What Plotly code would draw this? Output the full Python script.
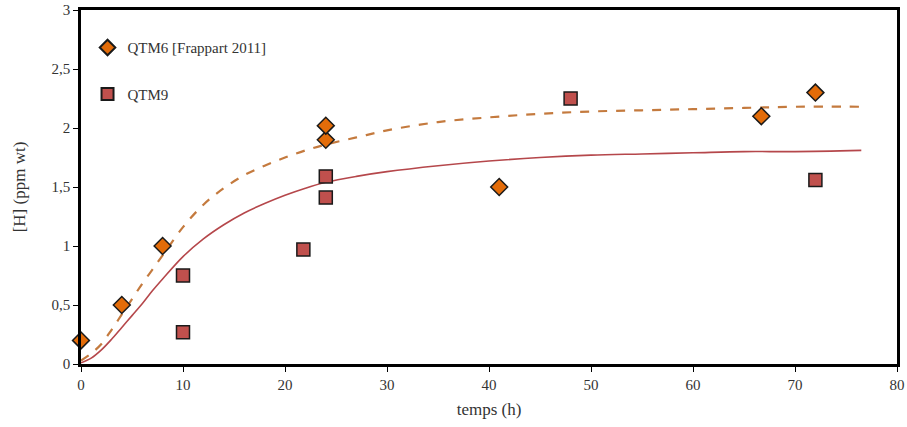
import plotly.graph_objects as go

# Measured points
qtm6_x = [0, 4, 8, 24, 24, 41, 66.7, 72]
qtm6_y = [0.2, 0.5, 1.0, 1.9, 2.02, 1.5, 2.1, 2.3]
qtm9_x = [10, 10, 21.8, 24, 24, 48, 72]
qtm9_y = [0.27, 0.75, 0.97, 1.41, 1.59, 2.25, 1.56]

# Fitted curves
fit_x = [0, 1, 2, 3, 4, 5, 6, 7, 8, 10, 12, 14, 16, 18, 20, 22, 24, 27, 30, 35, 40, 45, 50, 55, 60, 65, 70, 76.5]
fit6_y = [0.03, 0.09, 0.17, 0.29, 0.42, 0.55, 0.68, 0.80, 0.92, 1.16, 1.35, 1.49, 1.60, 1.68, 1.75, 1.81, 1.86, 1.92, 1.98, 2.05, 2.09, 2.12, 2.14, 2.15, 2.16, 2.17, 2.18, 2.18]
fit9_y = [0.01, 0.05, 0.12, 0.21, 0.31, 0.41, 0.51, 0.62, 0.72, 0.91, 1.06, 1.18, 1.28, 1.36, 1.43, 1.49, 1.54, 1.59, 1.63, 1.68, 1.72, 1.75, 1.77, 1.78, 1.79, 1.80, 1.80, 1.81]

x_ticks = [0, 10, 20, 30, 40, 50, 60, 70, 80]
y_ticks = [0, 0.5, 1, 1.5, 2, 2.5, 3]

font = "Liberation Serif, Times New Roman, serif"

fig = go.Figure()
fig.add_trace(go.Scatter(x=fit_x, y=fit6_y, mode="lines", showlegend=False,
                         line=dict(color="#C47A3E", width=2.2, dash="dash", shape="spline"), hoverinfo="skip"))
fig.add_trace(go.Scatter(x=fit_x, y=fit9_y, mode="lines", showlegend=False,
                         line=dict(color="#B5474B", width=1.6, shape="spline"), hoverinfo="skip"))
fig.add_trace(go.Scatter(x=qtm6_x, y=qtm6_y, mode="markers", name="QTM6 [Frappart 2011]",
                         legendgroup="a", cliponaxis=False,
                         marker=dict(symbol="diamond", size=13, color="#E36C09",
                                     line=dict(color="#1a1a1a", width=1.5))))
fig.add_trace(go.Scatter(x=qtm9_x, y=qtm9_y, mode="markers", name="QTM9",
                         legendgroup="b", cliponaxis=False,
                         marker=dict(symbol="square", size=13, color="#C0504D",
                                     line=dict(color="#1a1a1a", width=1.5))))

axis_common = dict(showline=True, linecolor="black", linewidth=2.5, mirror=True,
                   ticks="outside", ticklen=5, tickcolor="black", showgrid=False,
                   zeroline=False, automargin=False, ticklabeloverflow="allow",
                   tickfont=dict(family=font, size=15, color="#333"))

fig.update_layout(
    width=907, height=427,
    margin=dict(l=81, r=10, t=10, b=63),
    paper_bgcolor="white", plot_bgcolor="white",
    separators=", ",
    font=dict(family=font, size=15, color="#333"),
    showlegend=True,
    legend=dict(x=0.008, y=0.94, xanchor="left", yanchor="top",
                bgcolor="rgba(0,0,0,0)", tracegroupgap=24,
                font=dict(family=font, size=15, color="#333"),
                itemsizing="constant", itemwidth=30),
    xaxis=dict(range=[0, 80], tickvals=x_ticks,
               title=dict(text="temps (h)", font=dict(family=font, size=17, color="#333"), standoff=12),
               **axis_common),
    yaxis=dict(range=[0, 3], tickvals=y_ticks,
               title=dict(text="[H] (ppm wt)", font=dict(family=font, size=17, color="#333"), standoff=22),
               **axis_common),
)

fig.write_html("out.html", config={"displayModeBar": False},
               post_script="document.body.style.margin='0';")
